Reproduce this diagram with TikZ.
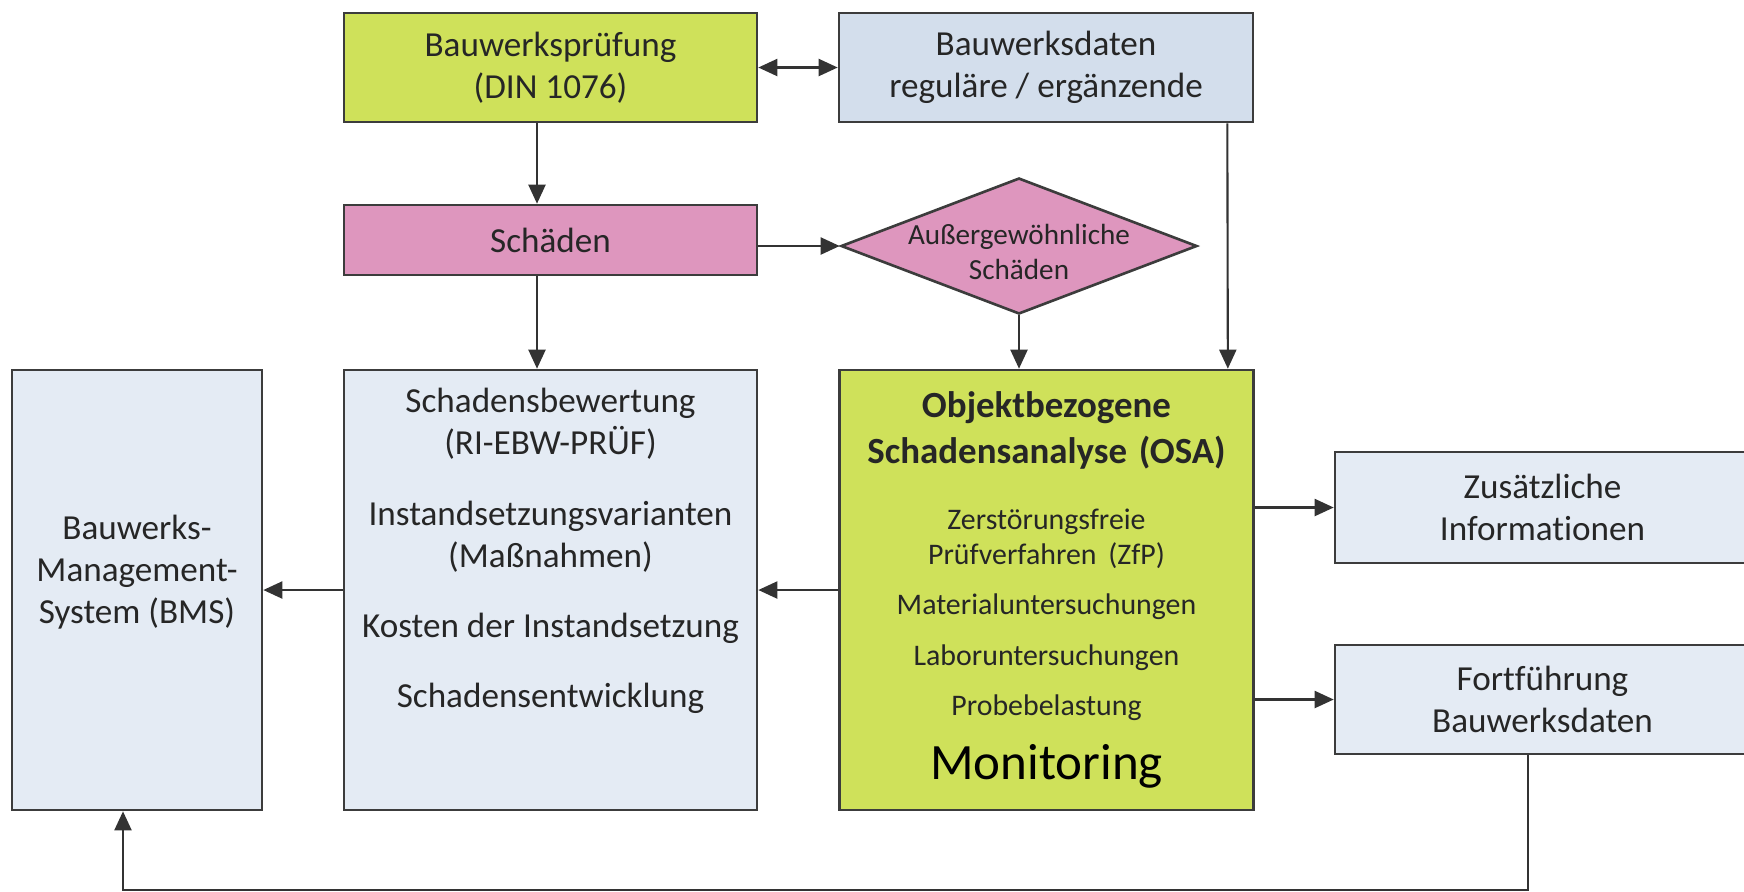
\documentclass[tikz,border=0pt]{standalone}
\usepackage{fontspec}
\setmainfont[Ligatures=NoCommon]{Carlito}
\usepackage{tikz}
\usetikzlibrary{arrows.meta,positioning,shapes.geometric}

\definecolor{osagruen}{RGB}{207,225,90}
\definecolor{schadenrosa}{RGB}{222,150,190}
\definecolor{datenblau}{RGB}{211,222,236}
\definecolor{kastenblau}{RGB}{228,235,244}
\definecolor{rahmengrau}{RGB}{60,60,60}

\begin{document}
\begin{tikzpicture}[
font=\fontsize{10}{12}\selectfont,
>={Triangle[length=1.9mm,width=1.7mm]},
box/.style={draw=rahmengrau,line width=0.75pt,inner sep=2pt,align=center,text=black!85},
gruenbox/.style={box,fill=osagruen},
rosabox/.style={box,fill=schadenrosa},
blaubox/.style={box,fill=kastenblau},
txt/.style={align=center,inner sep=0pt,text=black!85},
flow/.style={->,draw=black!80,line width=0.6pt}
]
    % fixed page frame
    \useasboundingbox (0,0) rectangle (17.44,-8.91);
    \clip (0,0) rectangle (17.44,-8.91);

    % top row
    \node[gruenbox,minimum width=4.13cm,minimum height=1.09cm] (pruef) at (5.505,-0.675)
        {Bauwerksprüfung\\(DIN 1076)};
    \node[box,fill=datenblau,minimum width=4.14cm,minimum height=1.09cm] (daten) at (10.46,-0.675)
        {Bauwerksdaten\\reguläre / ergänzende};

    % damages
    \node[rosabox,minimum width=4.13cm,minimum height=0.70cm] (schaeden) at (5.505,-2.40) {Schäden};
    \node[rosabox,diamond,minimum width=3.56cm,minimum height=1.36cm,inner sep=0pt] (raute) at (10.19,-2.46) {};
    \node[txt,font=\fontsize{8.3}{10}\selectfont] (rauteText) at ([yshift=-0.06cm]raute.center)
        {Außergewöhnliche\\Schäden};

    % middle row
    \node[blaubox,minimum width=2.50cm,minimum height=4.40cm] (bms) at (1.37,-5.90) {};
    \node[txt] (bmsText) at (1.37,-5.72) {Bauwerks-\\Management-\\System (BMS)};

    \node[blaubox,minimum width=4.13cm,minimum height=4.40cm] (bewert) at (5.505,-5.90) {};
    \node[txt] (bewertText) at (5.505,-5.51)
        {Schadensbewertung\\(RI-EBW-PRÜF)\\[8pt]
         Instandsetzungsvarianten\\(Maßnahmen)\\[8pt]
         Kosten der Instandsetzung\\[8pt]
         Schadensentwicklung};

    \node[gruenbox,minimum width=4.13cm,minimum height=4.40cm,text width=4cm] (osa) at (10.465,-5.90)
        {{\bfseries\fontsize{10.5}{13}\selectfont Objektbezogene\\Schadensanalyse (OSA)\par}
         \vspace{9pt}
         {\fontsize{8.5}{9.8}\selectfont Zerstörungsfreie\\Prüfverfahren (ZfP)\par}
         {\fontsize{8.5}{14.4}\selectfont Materialuntersuchungen\\Laboruntersuchungen\\Probebelastung\par}
         {\fontsize{14.5}{18}\selectfont\color{black} Monitoring\par}};

    % right column
    \node[blaubox,minimum width=4.15cm,minimum height=1.11cm] (zusatz) at (15.425,-5.075)
        {Zusätzliche\\Informationen};
    \node[blaubox,minimum width=4.15cm,minimum height=1.09cm] (fort) at (15.425,-6.995)
        {Fortführung\\Bauwerksdaten};

    % connectors
    \draw[flow,<->] (pruef) -- (daten);
    \draw[flow] ([xshift=-1.35mm]pruef.south) -- ([xshift=-1.35mm]schaeden.north);
    \draw[flow] (schaeden.east |- raute.west) -- (raute.west);
    \draw[flow] ([xshift=-1.35mm]schaeden.south) -- ([xshift=-1.35mm]bewert.north);
    \draw[flow] (raute.south) -- (raute.south |- osa.north);
    \draw[flow] ([xshift=-2.7mm]daten.south east) -- ([xshift=-2.7mm]osa.north east);
    \draw[flow] (osa) -- (bewert);
    \draw[flow] (bewert) -- (bms);
    \draw[flow] (osa.east |- zusatz) -- (zusatz);
    \draw[flow] (osa.east |- fort) -- (fort);

    % feedback to the BMS
    \draw[flow] ([xshift=-1.45mm]fort.south) -- ++(0,-1.35) -| ([xshift=-1.4mm]bms.south);

\end{tikzpicture}
\end{document}
